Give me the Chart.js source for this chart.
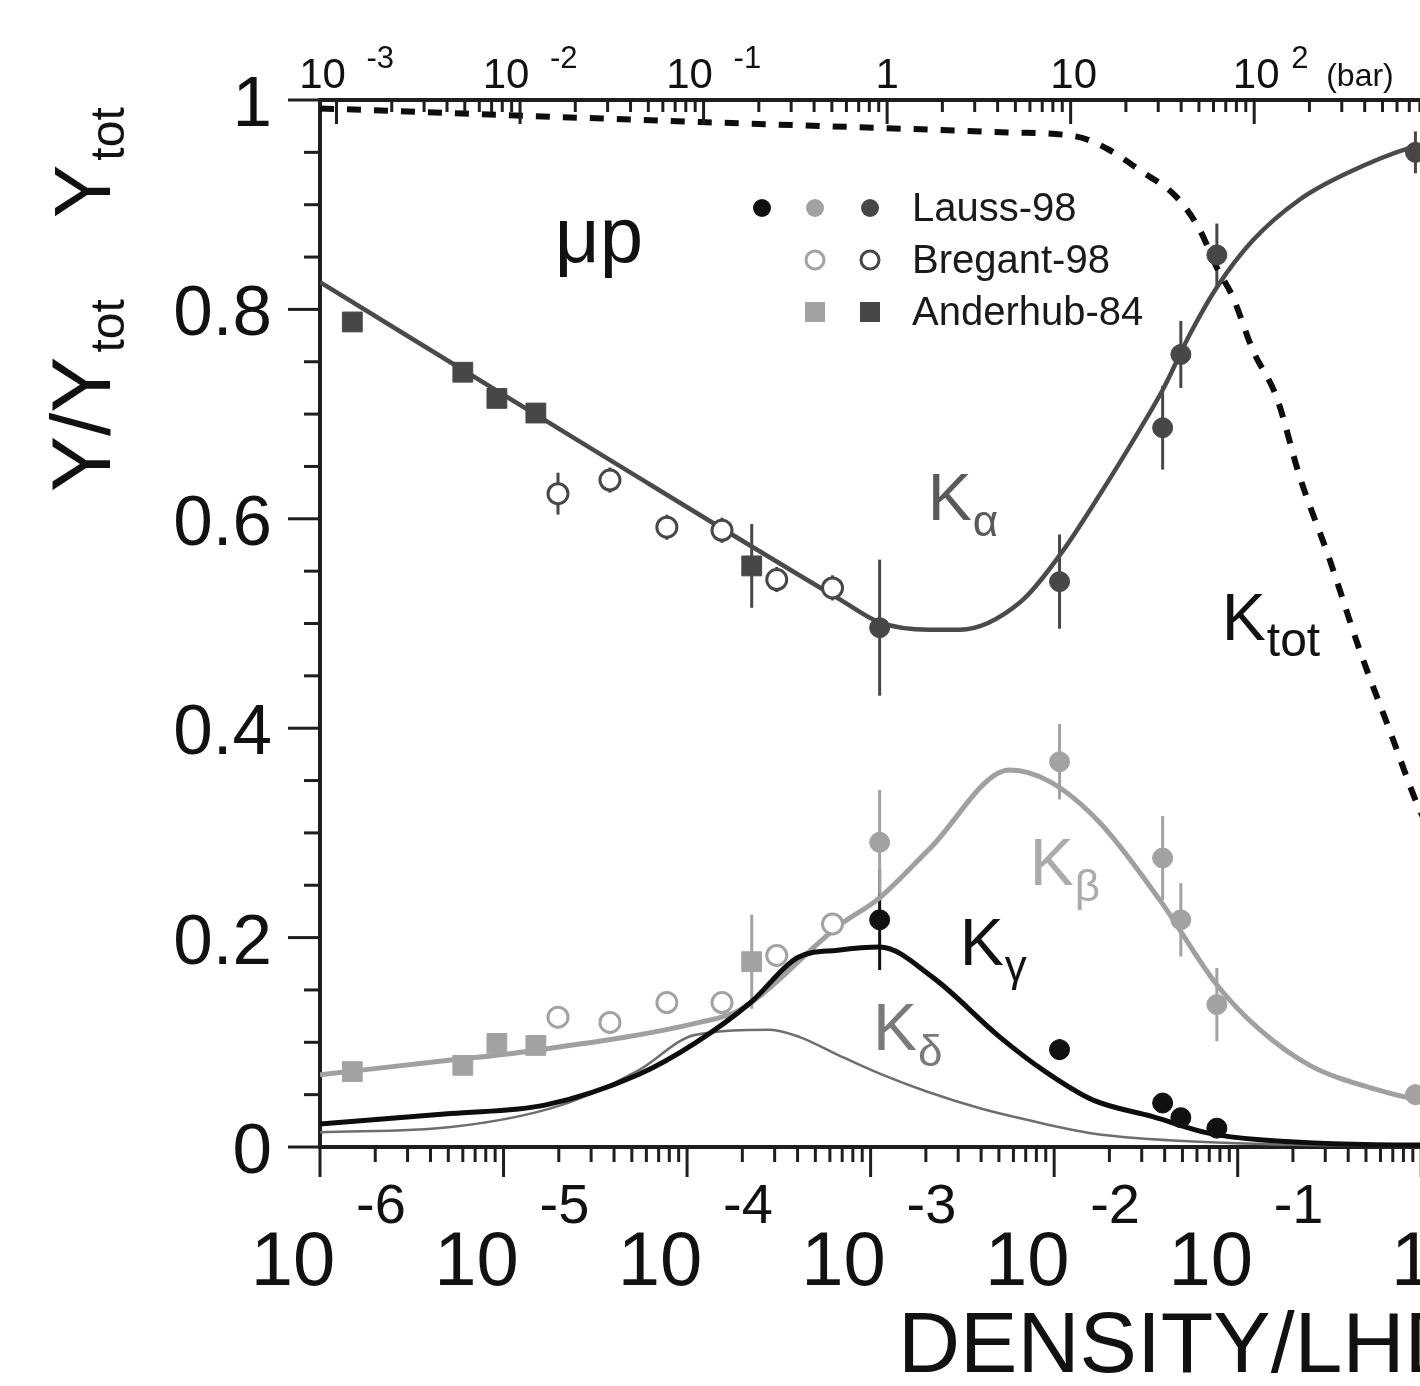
<!DOCTYPE html>
<html>
<head>
<meta charset="utf-8">
<script src="https://cdn.jsdelivr.net/npm/chart.js@4.4.1/dist/chart.umd.min.js"></script>
<style>
  html, body { margin: 0; padding: 0; background: #fff; overflow: hidden; }
  #wrap { width: 1600px; height: 1386px; }
</style>
</head>
<body>
<div id="wrap"><canvas id="chart" width="1600" height="1386"></canvas></div>
<script>
// x: density / LHD (log), y: Y/Ytot
const densityExponents = [-6, -5, -4, -3, -2, -1, 0];
const pressureExponents = [-3, -2, -1, 0, 1, 2];
const yTickValues = [0, 0.2, 0.4, 0.6, 0.8, 1];
const yTickLabels = ['0', '0.2', '0.4', '0.6', '0.8', '1'];
const barPerLHD = 813; // top axis: pressure in bar

// calculated curves
const kAlphaX = [1e-6, 3.35e-5, 6.8e-4, 1.12e-3, 2.1e-3, 3.06e-3, 6.5e-3, 1.07e-2, 1.77e-2, 2.92e-2, 3.9e-2, 5.48e-2, 7.69e-2, 0.121, 0.218, 0.393, 0.897, 1.5];
const kAlphaY = [0.826, 0.662, 0.523, 0.501, 0.494, 0.494, 0.520, 0.565, 0.623, 0.685, 0.723, 0.776, 0.821, 0.866, 0.905, 0.930, 0.955, 0.962];

const kTotX = [1e-6, 1.17e-4, 5.73e-3, 1.33e-2, 2.01e-2, 2.92e-2, 4.66e-2, 6.21e-2, 7.69e-2, 9.4e-2, 0.121, 0.163, 0.218, 0.317, 0.461, 0.673, 0.98, 1.5];
const kTotY = [0.992, 0.979, 0.969, 0.965, 0.952, 0.933, 0.907, 0.876, 0.840, 0.812, 0.761, 0.716, 0.640, 0.561, 0.475, 0.398, 0.322, 0.26];

const kBetaX = [1e-6, 5.16e-6, 1.31e-5, 1.17e-4, 1.94e-4, 6.79e-4, 1.12e-3, 2.1e-3, 5.73e-3, 9.46e-3, 1.77e-2, 3.76e-2, 7.69e-2, 0.132, 0.247, 0.593, 0.98, 1.5];
const kBetaY = [0.069, 0.083, 0.091, 0.119, 0.131, 0.212, 0.238, 0.285, 0.360, 0.349, 0.310, 0.236, 0.155, 0.112, 0.078, 0.054, 0.045, 0.042];

const kGammaX = [1e-6, 5.16e-6, 1.68e-5, 5.4e-5, 1.1e-4, 2.22e-4, 4.01e-4, 6.62e-4, 1.12e-3, 2.18e-3, 5.06e-3, 9.12e-3, 1.62e-2, 3.44e-2, 7.03e-2, 0.132, 0.98, 1.5];
const kGammaY = [0.022, 0.032, 0.040, 0.069, 0.099, 0.138, 0.181, 0.188, 0.191, 0.162, 0.105, 0.071, 0.045, 0.029, 0.013, 0.007, 0.002, 0.002];

const kDeltaX = [1e-6, 5.16e-6, 2.06e-5, 5.4e-5, 1.1e-4, 2.82e-4, 4.11e-4, 6.62e-4, 1.12e-3, 2.02e-3, 3.94e-3, 7.1e-3, 1.62e-2, 6.21e-2, 0.98, 1.5];
const kDeltaY = [0.014, 0.019, 0.040, 0.073, 0.107, 0.112, 0.105, 0.088, 0.070, 0.053, 0.037, 0.026, 0.013, 0.005, 0.001, 0.001];

// measurements
const lauss98X = [1.12e-3, 1.07e-2, 3.9e-2, 4.9e-2, 7.7e-2, 0.93];
const lauss98Alpha = [0.496, 0.540, 0.687, 0.757, 0.852, 0.950];
const lauss98AlphaErr = [0.065, 0.045, 0.040, 0.032, 0.030, 0.020];
const lauss98Beta = [0.291, 0.368, 0.276, 0.217, 0.136, 0.050];
const lauss98BetaErr = [0.050, 0.036, 0.040, 0.035, 0.035, 0.010];
const lauss98GammaX = [1.12e-3, 1.07e-2, 3.9e-2, 4.9e-2, 7.7e-2];
const lauss98Gamma = [0.217, 0.093, 0.042, 0.028, 0.018];
const lauss98GammaErr = [0.048, 0.010, 0.005, 0.005, 0.005];

const bregant98X = [1.98e-5, 3.8e-5, 7.76e-5, 1.55e-4, 3.08e-4, 6.2e-4];
const bregant98Alpha = [0.624, 0.637, 0.592, 0.589, 0.542, 0.534];
const bregant98AlphaErr = [0.02, 0.012, 0.012, 0.012, 0.012, 0.012];
const bregant98Beta = [0.124, 0.119, 0.138, 0.138, 0.183, 0.213];

const anderhub84X = [1.5e-6, 6e-6, 9.2e-6, 1.5e-5, 2.25e-4];
const anderhub84Alpha = [0.788, 0.740, 0.715, 0.701, 0.555];
const anderhub84AlphaErr = [0, 0, 0, 0, 0.04];
const anderhub84Beta = [0.072, 0.078, 0.099, 0.097, 0.177];
const anderhub84BetaErr = [0, 0, 0, 0, 0.045];

const FONT = "'Liberation Sans', Arial, Helvetica, sans-serif";
const DARK = '#474747', LIGHT = '#a2a2a2', BLACK = '#111';

const pts = (xs, ys) => xs.map((x, i) => ({ x: x, y: ys[i] }));

function curve(xs, ys, color, width, dash) {
    return {
        data: pts(xs, ys), showLine: true, pointRadius: 0, borderColor: color,
        borderWidth: width, borderDash: dash || [], fill: false,
        cubicInterpolationMode: 'monotone'
    };
}

function marks(xs, ys, errs, color, style, filled) {
    return {
        data: pts(xs, ys), showLine: false, errors: errs, errorColor: color,
        pointStyle: style, pointRadius: style === 'rect' ? 14 : 10,
        backgroundColor: filled ? color : '#fff', borderColor: color,
        borderWidth: filled ? 1 : 3
    };
}

// vertical error bars, drawn under the markers
const errorBars = {
    id: 'errorBars',
    beforeDatasetsDraw(chart) {
        const { ctx, scales: { x, y } } = chart;
        chart.data.datasets.forEach(ds => {
            if (!ds.errors) return;
            ctx.save();
            ctx.strokeStyle = ds.errorColor;
            ctx.lineWidth = 3;
            ds.data.forEach((p, i) => {
                const e = ds.errors[i];
                if (!e) return;
                const px = x.getPixelForValue(p.x);
                ctx.beginPath();
                ctx.moveTo(px, y.getPixelForValue(p.y - e));
                ctx.lineTo(px, y.getPixelForValue(p.y + e));
                ctx.stroke();
            });
            ctx.restore();
        });
    }
};

function seg(ctx, x1, y1, x2, y2) {
    ctx.beginPath(); ctx.moveTo(x1, y1); ctx.lineTo(x2, y2); ctx.stroke();
}

// text with a sub- or superscript part
function richText(ctx, main, small, x, y, bigPx, smallPx, dx, dy, color) {
    ctx.fillStyle = color;
    ctx.textAlign = 'left';
    ctx.textBaseline = 'alphabetic';
    ctx.font = bigPx + 'px ' + FONT;
    ctx.fillText(main, x, y);
    const w = ctx.measureText(main).width;
    ctx.font = smallPx + 'px ' + FONT;
    ctx.fillText(small, x + w + dx, y + dy);
}

const axisDecor = {
    id: 'axisDecor',
    afterDatasetsDraw(chart) {
        const { ctx, chartArea: a, scales: { x, x2, y } } = chart;
        ctx.save();
        ctx.strokeStyle = '#1e1e1e';
        ctx.lineWidth = 3;
        ctx.lineCap = 'butt';

        // bottom ticks (outside)
        densityExponents.forEach(e => {
            for (let m = 1; m <= 9; m++) {
                const v = m * Math.pow(10, e);
                const px = x.getPixelForValue(v);
                seg(ctx, px, a.bottom, px, a.bottom + (m === 1 ? 30 : 15));
            }
        });
        // top ticks (inside)
        [-3, -2, -1, 0, 1, 2, 3].forEach(e => {
            for (let m = 1; m <= 9; m++) {
                const v = m * Math.pow(10, e);
                if (v < x2.min || v > x2.max) continue;
                const px = x2.getPixelForValue(v);
                seg(ctx, px, a.top, px, a.top + (m === 1 ? 24 : 12));
            }
        });
        // left ticks (outside), minor every 0.05
        for (let i = 0; i <= 20; i++) {
            const py = y.getPixelForValue(i * 0.05);
            seg(ctx, a.left, py, a.left - (i % 4 === 0 ? 32 : 16), py);
        }

        // y tick labels
        ctx.fillStyle = '#111';
        ctx.font = '71px ' + FONT;
        ctx.textAlign = 'right';
        ctx.textBaseline = 'alphabetic';
        yTickValues.forEach((v, i) => {
            ctx.fillText(yTickLabels[i], a.left - 48, y.getPixelForValue(v) + 26);
        });

        // bottom tick labels 10^n
        densityExponents.forEach(e => {
            const px = x.getPixelForValue(Math.pow(10, e));
            ctx.fillStyle = '#111';
            ctx.textBaseline = 'alphabetic';
            if (e === 0) {
                ctx.font = '76px ' + FONT;
                ctx.textAlign = 'center';
                ctx.fillText('1', px - 9, a.bottom + 138);
                return;
            }
            ctx.font = '76px ' + FONT;
            ctx.textAlign = 'center';
            ctx.fillText('10', px - 27, a.bottom + 138);
            ctx.font = '56px ' + FONT;
            ctx.textAlign = 'left';
            ctx.fillText(String(e), px + 36, a.bottom + 76);
        });

        // top tick labels (bar)
        pressureExponents.forEach(e => {
            const px = x2.getPixelForValue(Math.pow(10, e));
            ctx.fillStyle = '#111';
            ctx.textBaseline = 'alphabetic';
            ctx.textAlign = 'center';
            ctx.font = '42px ' + FONT;
            if (e === 0) { ctx.fillText('1', px, a.top - 12); return; }
            if (e === 1) { ctx.fillText('10', px + 3, a.top - 12); return; }
            ctx.fillText('10', e < 0 ? px - 14 : px + 2, a.top - 12);
            ctx.font = '31px ' + FONT;
            ctx.textAlign = 'left';
            ctx.fillText(String(e), e < 0 ? px + 30 : px + 37, a.top - 32);
        });
        const p100 = x2.getPixelForValue(100);
        ctx.font = '32px ' + FONT;
        ctx.textAlign = 'left';
        ctx.fillText('(bar)', p100 + 72, a.top - 14);

        // axis titles
        ctx.fillStyle = '#111';
        ctx.font = '86px ' + FONT;
        ctx.textAlign = 'left';
        ctx.fillText('DENSITY/LHD', 898, 1372);

        ctx.save();
        ctx.translate(110, 492);
        ctx.rotate(-Math.PI / 2);
        richText(ctx, 'Y/Y', 'tot', 0, 0, 84, 48, 4, 14, '#111');
        ctx.restore();
        ctx.save();
        ctx.translate(110, 218);
        ctx.rotate(-Math.PI / 2);
        richText(ctx, 'Y', 'tot', 0, 0, 80, 48, 4, 14, '#111');
        ctx.restore();

        // curve labels
        const lab = (vx, vy, main, sub, color, subPx) =>
            richText(ctx, main, sub, x.getPixelForValue(vx), y.getPixelForValue(vy), 66, subPx || 44, 1, 16, color);
        lab(2.05e-3, 0.599, 'K', 'α', '#5a5a5a');
        lab(7.36e-3, 0.250, 'K', 'β', '#ababab');
        lab(3.06e-3, 0.174, 'K', 'γ', '#111');
        lab(1.03e-3, 0.093, 'K', 'δ', '#7a7a7a');
        lab(8.19e-2, 0.484, 'K', 'tot', '#111', 48);

        ctx.fillStyle = '#111';
        ctx.font = '78px ' + FONT;
        ctx.textAlign = 'left';
        ctx.fillText('μp', x.getPixelForValue(1.9e-5), y.getPixelForValue(0.845));

        // legend
        const rows = [208, 260, 312];
        const dot = (cx, cy, fill, stroke) => {
            ctx.beginPath(); ctx.arc(cx, cy, 9, 0, Math.PI * 2);
            if (fill) { ctx.fillStyle = fill; ctx.fill(); }
            if (stroke) { ctx.strokeStyle = stroke; ctx.lineWidth = 3; ctx.stroke(); }
        };
        dot(762, rows[0], BLACK); dot(815, rows[0], LIGHT); dot(870, rows[0], DARK);
        dot(815, rows[1], '#fff', LIGHT); dot(870, rows[1], '#fff', DARK);
        ctx.fillStyle = LIGHT; ctx.fillRect(805, rows[2] - 10, 20, 20);
        ctx.fillStyle = DARK; ctx.fillRect(860, rows[2] - 10, 20, 20);
        ctx.fillStyle = '#1a1a1a';
        ctx.font = '40px ' + FONT;
        ctx.textAlign = 'left';
        ctx.textBaseline = 'middle';
        ['Lauss-98', 'Bregant-98', 'Anderhub-84'].forEach((t, i) => ctx.fillText(t, 912, rows[i] + 2));
        ctx.restore();
    }
};

const hidden = { display: false, drawTicks: false };

new Chart(document.getElementById('chart'), {
    type: 'scatter',
    data: {
        datasets: [
            marks(lauss98GammaX, lauss98Gamma, lauss98GammaErr, BLACK, 'circle', true),
            marks(lauss98X, lauss98Beta, lauss98BetaErr, LIGHT, 'circle', true),
            marks(lauss98X, lauss98Alpha, lauss98AlphaErr, DARK, 'circle', true),
            marks(bregant98X, bregant98Beta, null, LIGHT, 'circle', false),
            marks(bregant98X, bregant98Alpha, bregant98AlphaErr, DARK, 'circle', false),
            marks(anderhub84X, anderhub84Beta, anderhub84BetaErr, LIGHT, 'rect', true),
            marks(anderhub84X, anderhub84Alpha, anderhub84AlphaErr, DARK, 'rect', true),
            curve(kTotX, kTotY, '#0d0d0d', 6, [14, 13]),
            curve(kGammaX, kGammaY, '#0d0d0d', 5),
            curve(kAlphaX, kAlphaY, '#4a4a4a', 4.5),
            curve(kBetaX, kBetaY, '#a0a0a0', 5),
            curve(kDeltaX, kDeltaY, '#6e6e6e', 2.5)
        ]
    },
    options: {
        responsive: false,
        animation: false,
        devicePixelRatio: 1,
        layout: { padding: { left: 320, top: 100, right: 87, bottom: 239 } },
        plugins: { legend: { display: false }, tooltip: { enabled: false } },
        scales: {
            x: {
                type: 'logarithmic', position: 'bottom', min: 1e-6, max: 3.1623,
                grid: hidden, ticks: { display: false },
                border: { display: true, color: '#1e1e1e', width: 4 }
            },
            x2: {
                type: 'logarithmic', position: 'top', min: 1e-6 * barPerLHD, max: 3.1623 * barPerLHD,
                grid: hidden, ticks: { display: false },
                border: { display: true, color: '#1e1e1e', width: 4 }
            },
            y: {
                type: 'linear', min: 0, max: 1,
                grid: hidden, ticks: { display: false },
                border: { display: true, color: '#1e1e1e', width: 4 }
            }
        }
    },
    plugins: [errorBars, axisDecor]
});
</script>
</body>
</html>
